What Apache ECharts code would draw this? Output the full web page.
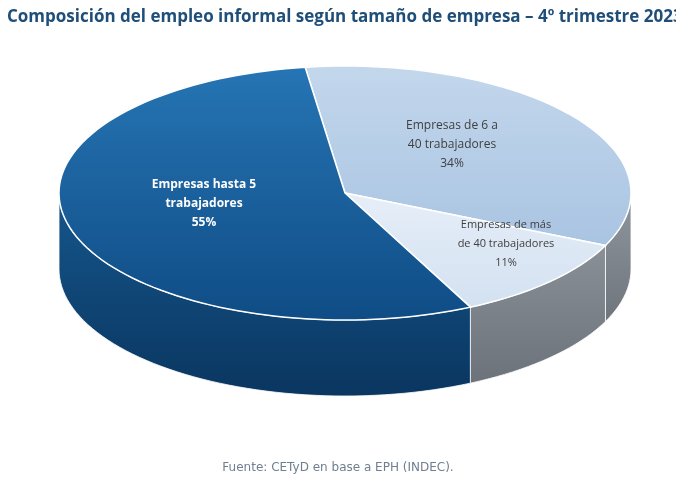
<!DOCTYPE html>
<html>
<head>
<meta charset="utf-8">
<script src="https://cdn.jsdelivr.net/npm/echarts@6/dist/echarts.min.js"></script>
<style>html,body{margin:0;background:#fff}#chart{width:676px;height:483px}</style>
</head>
<body>
<div id="chart"></div>
<script>
// datos
var categories = ['Empresas de 6 a\n40 trabajadores', 'Empresas de más\nde 40 trabajadores', 'Empresas hasta 5\ntrabajadores'];
var values = [34, 11, 55];

var topColors = [['#c3d7ec', '#a9c4e2'], ['#e6eef8', '#d3e1f1'], ['#2675b4', '#0f4c85']];
var sideColors = [['#8f969e', '#6f757c'], ['#8a9097', '#6c7279'], ['#15568c', '#0a3660']];
var labelPos = [[452, 145], [506, 244], [204, 204]];
var labelStyle = [{fill: '#404040', font: '12px "Open Sans"'}, {fill: '#404040', font: '11px "Open Sans"'}, {fill: '#ffffff', font: 'bold 12px "Open Sans"'}];

var cx = 345, cy = 193, rx = 286, ry = 127, depth = 76, startAngle = 98;

var total = values.reduce(function (a, b) { return a + b; }, 0);
var angles = [];
(function () {
    var a = startAngle;
    values.forEach(function (v) {
        var span = v / total * 360;
        angles.push([a, a - span]);
        a -= span;
    });
})();

function pt(t, dy) {
    var r = t * Math.PI / 180;
    return [cx + rx * Math.cos(r), cy - ry * Math.sin(r) + (dy || 0)];
}
function arc(a, b, dy) {
    var pts = [], n = Math.max(2, Math.ceil(Math.abs(a - b) / 2));
    for (var i = 0; i <= n; i++) pts.push(pt(a + (b - a) * i / n, dy));
    return pts;
}
function grad(c) {
    return new echarts.graphic.LinearGradient(0, 0, 0, 1, [{offset: 0, color: c[0]}, {offset: 1, color: c[1]}]);
}

var sideSeries = {
    type: 'custom', coordinateSystem: 'none', z: 1, silent: true,
    data: values.map(function (v, i) { return [i, v]; }),
    renderItem: function (params, api) {
        var i = api.value(0), a1 = angles[i][0], a2 = angles[i][1];
        var lo = Math.max(a2, -180), hi = Math.min(a1, 0);
        if (lo >= hi) return null;
        var pts = arc(hi, lo, 0).concat(arc(lo, hi, depth));
        return {type: 'polygon', shape: {points: pts}, style: {fill: grad(sideColors[i]), stroke: '#ffffff', lineWidth: 0.8}};
    }
};

var topSeries = {
    type: 'custom', coordinateSystem: 'none', z: 2, silent: true,
    data: values.map(function (v, i) { return [i, v]; }),
    renderItem: function (params, api) {
        var i = api.value(0), v = api.value(1);
        var pts = [[cx, cy]].concat(arc(angles[i][0], angles[i][1], 0));
        return {
            type: 'group',
            children: [
                {type: 'polygon', shape: {points: pts}, style: {fill: grad(topColors[i]), stroke: '#ffffff', lineWidth: 1.5}},
                {type: 'text', x: labelPos[i][0], y: labelPos[i][1],
                 style: {text: categories[i] + '\n' + v + '%', fill: labelStyle[i].fill, font: labelStyle[i].font,
                         align: 'center', verticalAlign: 'middle', lineHeight: 19}}
            ]
        };
    }
};

var chart = echarts.init(document.getElementById('chart'));
chart.setOption({
    animation: false,
    title: [{
        text: 'Composición del empleo informal según tamaño de empresa – 4º trimestre 2023',
        left: 2, top: 4,
        textStyle: {color: '#1f4e79', fontSize: 17, fontWeight: 'bold', fontFamily: 'Open Sans'}
    }, {
        text: 'Fuente: CETyD en base a EPH (INDEC).',
        left: 'center', top: 457,
        textStyle: {color: '#6f7f8f', fontSize: 12, fontWeight: 'normal', fontFamily: 'DejaVu Sans'}
    }],
    series: [sideSeries, topSeries]
});
</script>
</body>
</html>
